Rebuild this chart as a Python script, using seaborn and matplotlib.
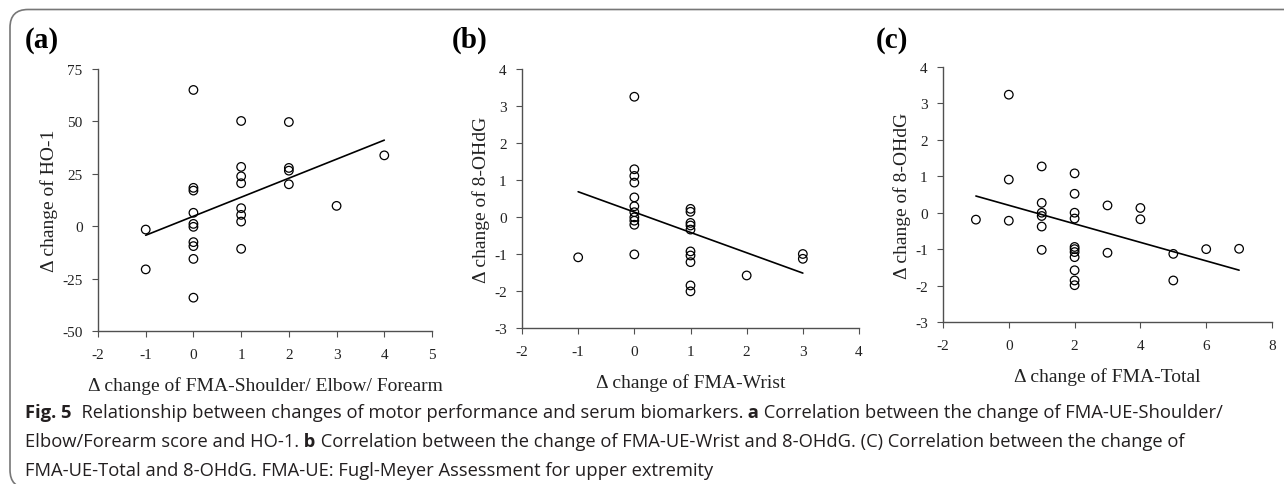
import matplotlib
matplotlib.use("Agg")
import matplotlib.pyplot as plt
import matplotlib.transforms as mtransforms
from matplotlib.patches import FancyBboxPatch
import seaborn as sns

# Data
# (a) change of FMA-Shoulder/Elbow/Forearm vs change of HO-1
fma_sef = [-1, -1,
           0, 0, 0, 0, 0, 0, 0, 0, 0, 0,
           1, 1, 1, 1, 1, 1, 1, 1,
           2, 2, 2, 2,
           3, 4]
ho1 = [-1.6, -20.6,
       65.0, 18.3, 17.0, 6.4, 1.1, -0.3, -7.6, -9.5, -15.6, -34.1,
       50.2, 28.3, 23.8, 20.5, 8.6, 5.4, 2.2, -10.8,
       49.7, 27.8, 26.5, 20.0,
       9.7, 33.8]

# (b) change of FMA-Wrist vs change of 8-OHdG
fma_wrist = [-1,
             0, 0, 0, 0, 0, 0, 0, 0, 0, 0, 0,
             1, 1, 1, 1, 1, 1, 1, 1, 1, 1,
             2, 3, 3]
ohdg_b = [-1.09,
          3.25, 1.29, 1.11, 0.93, 0.53, 0.29, 0.13, -0.01, -0.10, -0.21, -1.01,
          0.22, 0.14, -0.16, -0.23, -0.34, -0.93, -1.04, -1.22, -1.85, -2.01,
          -1.58, -1.00, -1.13]

# (c) change of FMA-Total vs change of 8-OHdG
fma_total = [-1,
             0, 0, 0,
             1, 1, 1, 1, 1, 1,
             2, 2, 2, 2, 2, 2, 2, 2, 2, 2, 2,
             3, 3, 4, 4, 5, 5, 6, 7]
ohdg_c = [-0.19,
          3.24, 0.91, -0.22,
          1.27, 0.27, 0.00, -0.09, -0.38, -1.02,
          1.08, 0.52, 0.00, -0.16, -0.94, -1.00, -1.08, -1.22, -1.58, -1.86, -1.99,
          0.20, -1.10, 0.13, -0.18, -1.13, -1.86, -1.00, -0.99]

W, H = 1284, 485

sns.set_theme(style="ticks")
plt.rcParams["font.family"] = ["Liberation Serif", "DejaVu Serif"]
plt.rcParams["axes.unicode_minus"] = False

fig = plt.figure(figsize=(W / 100, H / 100), dpi=100)
fig.patch.set_facecolor("white")


def px_axes(left, top, right, bottom):
    return fig.add_axes([left / W, 1 - bottom / H, (right - left) / W, (bottom - top) / H])


panels = [
    dict(box=(98, 70, 432, 332), x=fma_sef, y=ho1, xlim=(-2, 5), xticks=range(-2, 6),
         ylim=(-50, 75), yticks=range(-50, 76, 25),
         xlabel="\u0394 change of FMA-Shoulder/ Elbow/ Forearm", ylabel="\u0394 change of HO-1",
         tag="(a)", tag_x=25),
    dict(box=(522, 70, 859, 329), x=fma_wrist, y=ohdg_b, xlim=(-2, 4), xticks=range(-2, 5),
         ylim=(-3, 4), yticks=range(-3, 5),
         xlabel="\u0394 change of FMA-Wrist", ylabel="\u0394 change of 8-OHdG",
         tag="(b)", tag_x=452),
    dict(box=(943, 68, 1272, 323), x=fma_total, y=ohdg_c, xlim=(-2, 8), xticks=range(-2, 9, 2),
         ylim=(-3, 4), yticks=range(-3, 5),
         xlabel="\u0394 change of FMA-Total", ylabel="\u0394 change of 8-OHdG",
         tag="(c)", tag_x=876),
]

axis_col = "#505050"
for p in panels:
    ax = px_axes(*p["box"])
    sns.regplot(x=p["x"], y=p["y"], ax=ax, ci=None, marker="o",
                scatter_kws=dict(color="black", facecolors="none", edgecolors="black",
                                 s=38, linewidths=0.9, alpha=1),
                line_kws=dict(color="black", lw=1.2))
    ax.set_xlim(*p["xlim"])
    ax.set_ylim(*p["ylim"])
    ax.set_xticks(list(p["xticks"]))
    ax.set_yticks(list(p["yticks"]))
    sns.despine(ax=ax)
    for s in ["left", "bottom"]:
        ax.spines[s].set_color(axis_col)
        ax.spines[s].set_linewidth(1.0)
    ax.tick_params(axis="both", direction="out", length=4, width=0.8, color=axis_col,
                   labelsize=11, labelcolor="#222222")
    ax.tick_params(axis="x", pad=8)
    ax.tick_params(axis="y", pad=7)
    ax.set_xlabel(p["xlabel"], fontsize=14, color="#222222", labelpad=11)
    ax.set_ylabel(p["ylabel"], fontsize=14, color="#222222", labelpad=3)
    ax.set_facecolor("white")
    fig.text(p["tag_x"] / W, 1 - 40 / H, p["tag"], fontsize=21, fontweight="bold",
             ha="left", va="center", color="black")

# Frame around figure and caption
frame = FancyBboxPatch((10, -4), 1400, H - 10.5 + 4, boxstyle="round,pad=0,rounding_size=18",
                       transform=mtransforms.IdentityTransform(), fill=False,
                       edgecolor="#777777", linewidth=1.2, clip_on=False)
fig.add_artist(frame)

# Caption with bold runs
cap_font = ["Open Sans", "DejaVu Sans"]
cap_lines = [
    [("Fig. 5", True), ("  Relationship between changes of motor performance and serum biomarkers.", False),
     (" a", True), (" Correlation between the change of FMA-UE-Shoulder/", False)],
    [("Elbow/Forearm score and HO-1.", False), (" b", True),
     (" Correlation between the change of FMA-UE-Wrist and 8-OHdG. (C) Correlation between the change of", False)],
    [("FMA-UE-Total and 8-OHdG. FMA-UE: Fugl-Meyer Assessment for upper extremity", False)],
]
cap_y = [413, 442, 471]
renderer = fig.canvas.get_renderer()


def draw_runs(runs, x0, y, size, draw=True):
    x = x0
    made = []
    for txt, bold in runs:
        t = fig.text(x / W, 1 - y / H, txt, fontsize=size, family=cap_font,
                     fontweight="bold" if bold else "normal", ha="left", va="center",
                     color="#231f20")
        x += t.get_window_extent(renderer=renderer).width
        made.append(t)
    if not draw:
        for t in made:
            t.remove()
    return x - x0


# fit size so second line ends where the reference does
base = 10
w2 = draw_runs(cap_lines[1], 25, cap_y[1], base, draw=False)
cap_size = base * (1185 - 25) / w2
for runs, y in zip(cap_lines, cap_y):
    draw_runs(runs, 25, y, cap_size)

fig.savefig("out.png", dpi=100, facecolor="white")
